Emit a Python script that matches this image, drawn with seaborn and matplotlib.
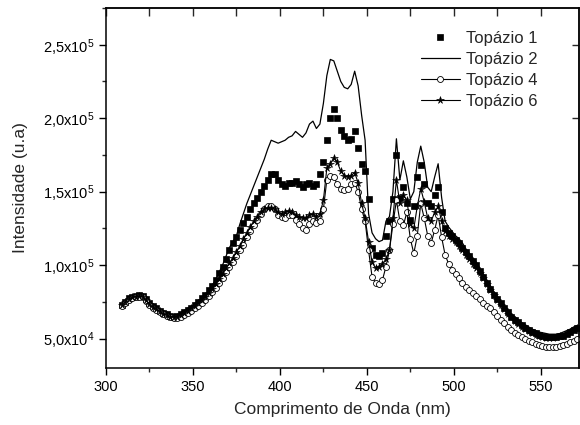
# -*- coding: utf-8 -*-
import numpy as np
import seaborn as sns
import matplotlib.pyplot as plt
from matplotlib.ticker import MultipleLocator, FuncFormatter

#%% data (intensity in units of 1e4)
wl = np.arange(309, 573, 2)

topazio1 = [7.3, 7.5, 7.75, 7.85, 7.9, 7.95, 7.9, 7.7, 7.45, 7.25,
            7.05, 6.9, 6.75, 6.65, 6.55, 6.5, 6.55, 6.65, 6.8, 6.95,
            7.1, 7.3, 7.5, 7.75, 8.0, 8.3, 8.6, 9.0, 9.45, 9.9,
            10.4, 11.0, 11.5, 11.9, 12.4, 12.9, 13.3, 13.8, 14.2, 14.6,
            15.0, 15.4, 15.8, 16.2, 16.2, 15.8, 15.5, 15.4, 15.6, 15.6,
            15.7, 15.5, 15.3, 15.5, 15.6, 15.4, 15.5, 16.2, 17.0, 18.5,
            20.0, 20.6, 20.0, 19.2, 18.8, 18.5, 18.6, 19.1, 18.0, 16.9,
            16.4, 14.5, 11.2, 10.7, 10.6, 10.8, 12.0, 13.0, 14.5, 17.5,
            14.6, 15.3, 14.2, 13.1, 14.0, 16.0, 16.8, 15.5, 14.2, 14.0,
            14.8, 15.3, 13.6, 12.5, 12.2, 12.0, 11.7, 11.5, 11.2, 10.9,
            10.6, 10.3, 10.0, 9.6, 9.2, 8.8, 8.4, 8.0, 7.7, 7.4,
            7.1, 6.8, 6.5, 6.3, 6.1, 5.9, 5.75, 5.6, 5.45, 5.35,
            5.25, 5.15, 5.1, 5.1, 5.1, 5.1, 5.15, 5.2, 5.3, 5.45,
            5.6, 5.75]

topazio2 = [7.2, 7.4, 7.7, 7.85, 7.9, 7.95, 7.95, 7.7, 7.45, 7.25,
            7.1, 6.95, 6.8, 6.65, 6.6, 6.5, 6.55, 6.65, 6.8, 6.95,
            7.1, 7.3, 7.5, 7.7, 7.95, 8.25, 8.6, 9.0, 9.5, 10.0,
            10.6, 11.2, 11.6, 12.0, 12.8, 13.5, 14.2, 14.8, 15.4, 16.0,
            16.6, 17.2, 17.9, 18.5, 18.4, 18.3, 18.4, 18.5, 18.7, 18.8,
            19.1, 18.9, 18.7, 19.0, 19.6, 19.8, 19.3, 19.6, 21.0, 22.9,
            24.0, 23.9, 23.2, 22.5, 22.1, 22.0, 22.3, 23.2, 22.2, 20.2,
            18.5, 13.5, 12.2, 11.8, 11.6, 11.7, 13.0, 13.3, 15.0, 18.6,
            15.8, 17.1, 16.0, 14.5, 15.0, 17.0, 18.1, 17.0, 15.3, 15.0,
            16.0, 16.9, 14.6, 13.0, 12.6, 12.3, 12.0, 11.8, 11.5, 11.1,
            10.8, 10.5, 10.2, 9.8, 9.4, 9.0, 8.6, 8.2, 7.9, 7.6,
            7.3, 7.0, 6.7, 6.5, 6.3, 6.1, 5.95, 5.8, 5.65, 5.55,
            5.45, 5.4, 5.35, 5.3, 5.3, 5.3, 5.35, 5.45, 5.55, 5.65,
            5.8, 5.9]

topazio4 = [7.2, 7.4, 7.6, 7.75, 7.8, 7.85, 7.8, 7.55, 7.3, 7.1,
            6.95, 6.8, 6.65, 6.55, 6.45, 6.4, 6.4, 6.5, 6.6, 6.75,
            6.9, 7.05, 7.25, 7.45, 7.65, 7.9, 8.15, 8.45, 8.8, 9.15,
            9.5, 9.85, 10.2, 10.6, 11.0, 11.4, 11.9, 12.3, 12.7, 13.1,
            13.5, 13.8, 14.0, 14.0, 13.8, 13.4, 13.3, 13.2, 13.4, 13.4,
            13.1, 12.8, 12.5, 12.4, 12.8, 13.0, 12.9, 13.0, 13.8, 15.8,
            16.1, 16.0, 15.5, 15.2, 15.1, 15.2, 15.5, 15.6, 15.0, 13.8,
            13.0, 11.0, 9.2, 8.8, 8.7, 9.0, 9.9, 11.0, 12.8, 14.4,
            13.0, 12.7, 13.6, 11.8, 10.8, 12.0, 14.2, 13.2, 12.0, 11.5,
            12.4, 13.4, 11.9, 10.7, 10.1, 9.7, 9.4, 9.1, 8.8, 8.5,
            8.3, 8.1, 7.9, 7.7, 7.45, 7.25, 7.05, 6.8, 6.55, 6.3,
            6.05, 5.8, 5.6, 5.4, 5.25, 5.1, 4.97, 4.85, 4.75, 4.65,
            4.55, 4.5, 4.45, 4.42, 4.42, 4.45, 4.5, 4.55, 4.65, 4.75,
            4.85, 4.95]

topazio6 = [7.3, 7.5, 7.7, 7.8, 7.85, 7.9, 7.85, 7.6, 7.35, 7.15,
            7.0, 6.85, 6.7, 6.6, 6.5, 6.45, 6.5, 6.6, 6.75, 6.9,
            7.05, 7.2, 7.4, 7.6, 7.85, 8.1, 8.4, 8.7, 9.05, 9.4,
            9.8, 10.15, 10.5, 10.9, 11.3, 11.75, 12.2, 12.6, 13.0, 13.3,
            13.6, 13.8, 13.9, 13.9, 13.8, 13.6, 13.5, 13.6, 13.7, 13.6,
            13.4, 13.3, 13.2, 13.2, 13.4, 13.5, 13.3, 13.5, 14.4, 16.6,
            16.9, 17.3, 17.0, 16.4, 16.1, 16.0, 16.1, 16.3, 15.6, 14.2,
            13.2, 11.6, 10.2, 9.8, 9.9, 10.1, 10.4, 11.0, 13.2, 15.8,
            14.2, 14.8, 14.4, 12.8, 12.5, 14.0, 15.2, 14.3, 13.2, 13.0,
            13.6, 14.0, 13.0, 12.3, 12.0, 11.8, 11.6, 11.3, 11.0, 10.7,
            10.4, 10.1, 9.8, 9.45, 9.1, 8.7, 8.3, 7.95, 7.6, 7.3,
            7.0, 6.7, 6.45, 6.2, 6.0, 5.8, 5.65, 5.5, 5.35, 5.25,
            5.15, 5.1, 5.05, 5.05, 5.05, 5.1, 5.15, 5.2, 5.3, 5.45,
            5.6, 5.75]

labels = ['Topázio 1', 'Topázio 2', 'Topázio 4', 'Topázio 6']

#%% style
sns.set_style('ticks')
plt.rcParams['font.family'] = ['Liberation Sans', 'DejaVu Sans']
plt.rcParams['mathtext.fontset'] = 'custom'
plt.rcParams['mathtext.rm'] = 'Liberation Sans'
plt.rcParams['mathtext.it'] = 'Liberation Sans'

fig = plt.figure(figsize=(5.8, 4.25), dpi=100)
ax = fig.add_axes([106 / 580, 57 / 425, 473 / 580, 360 / 425])

scale = 1e4
sns.lineplot(x=wl, y=np.array(topazio1) * scale, ax=ax, color='k',
             linestyle='', marker='s', markersize=3.8, markeredgecolor='k',
             markeredgewidth=0.5, label=labels[0], sort=False, estimator=None)
sns.lineplot(x=wl, y=np.array(topazio2) * scale, ax=ax, color='k',
             linewidth=0.9, label=labels[1], sort=False, estimator=None)
sns.lineplot(x=wl, y=np.array(topazio4) * scale, ax=ax, color='k',
             linewidth=0.8, marker='o', markersize=4.3, markerfacecolor='white',
             markeredgecolor='k', markeredgewidth=0.6, label=labels[2],
             sort=False, estimator=None)
sns.lineplot(x=wl, y=np.array(topazio6) * scale, ax=ax, color='k',
             linewidth=0.8, marker='*', markersize=5.5, markeredgecolor='k',
             markeredgewidth=0.4, label=labels[3], sort=False, estimator=None)

ax.set_xlim(300, 572)
ax.set_ylim(3e4, 2.75e5)


def sci_fmt(v, pos):
    if v <= 0:
        return ''
    e = int(np.floor(np.log10(v)))
    m = v / 10 ** e
    return ('%.1f' % m).replace('.', ',') + 'x10$^{%d}$' % e


ax.xaxis.set_major_locator(MultipleLocator(50))
ax.xaxis.set_minor_locator(MultipleLocator(25))
ax.yaxis.set_major_locator(MultipleLocator(5e4))
ax.yaxis.set_minor_locator(MultipleLocator(2.5e4))
ax.yaxis.set_major_formatter(FuncFormatter(sci_fmt))
ax.tick_params(which='major', direction='out', length=5, width=1,
               labelsize=10.5, colors='k')
ax.tick_params(which='minor', direction='out', length=3, width=1)

# mirrored axes: ticks pointing inward, no labels
top = ax.secondary_xaxis('top')
top.xaxis.set_major_locator(MultipleLocator(25))
top.tick_params(direction='in', length=6, width=1, labeltop=False)
right = ax.secondary_yaxis('right')
right.yaxis.set_major_locator(MultipleLocator(5e4))
right.tick_params(direction='in', length=5, width=1, labelright=False)

for sp in ax.spines.values():
    sp.set_visible(True)
    sp.set_linewidth(1.1)
    sp.set_color('k')
for a in (top, right):
    for sp in a.spines.values():
        sp.set_linewidth(1.1)

ax.set_xlabel('Comprimento de Onda (nm)', fontsize=12.5, labelpad=6)
ax.set_ylabel('Intensidade (u.a)', fontsize=12.5, labelpad=11)

ax.legend(loc='upper left', bbox_to_anchor=(0.665, 0.936), frameon=False,
          fontsize=12, borderpad=0, borderaxespad=0, handlelength=2.35,
          handletextpad=0.4, labelspacing=0.36, numpoints=1)

fig.savefig('out.png', dpi=100)
